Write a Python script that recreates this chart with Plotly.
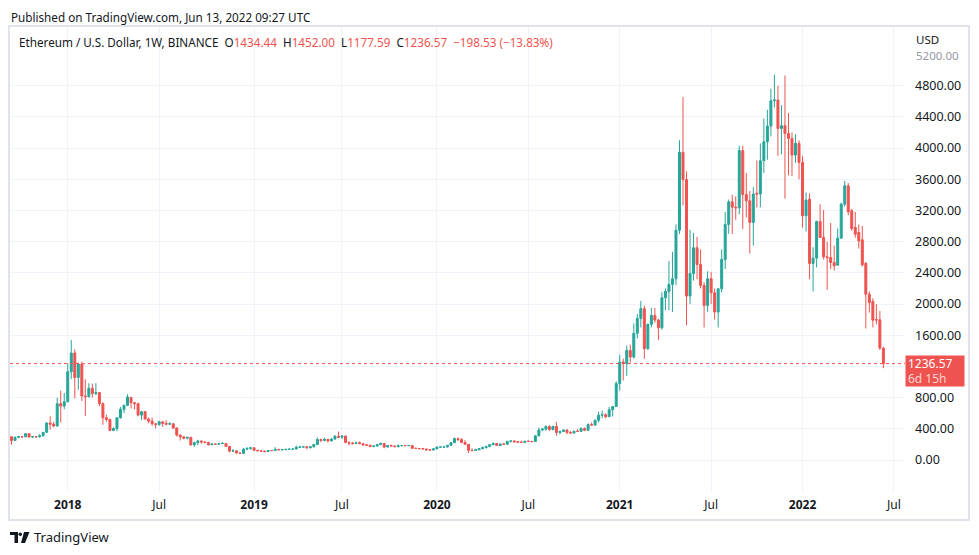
import pandas as pd
import plotly.graph_objects as go

firstWeek = "2017-09-11"

# weekly candles ETH/USD (Binance), one line per year
weekOpen = [
    299, 250, 292, 300, 297, 338, 294, 300, 298, 312, 355, 475, 460, 436, 722, 692,
    748, 1131, 1372, 1058, 1230, 822, 813, 920, 852, 865, 723, 542, 520, 379, 404, 542, 650, 701, 800, 735,
    723, 576, 620, 525, 499, 465, 455, 490, 470, 460, 465, 410, 320, 297, 280, 290, 195, 222, 245, 232,
    225, 195, 205, 203, 210, 212, 175, 113, 118, 90, 85, 140, 150,
    157, 125, 118, 115, 108, 122, 121, 137, 131, 133, 137, 139, 141, 163, 166, 170, 156, 170, 200, 262,
    250, 266, 245, 268, 305, 292, 307, 226, 218, 210, 222, 210, 195, 190, 172, 180, 197, 211, 166, 185,
    181, 172, 183, 186, 184, 185, 150, 148, 145, 142, 132, 128,
    143, 166, 167, 168, 189, 223, 275, 262, 225, 201, 124, 122, 131, 145, 158, 172, 197, 212, 187, 206,
    202, 240, 245, 233, 229, 225, 241, 238, 236, 310, 385, 396, 430, 390, 430, 352, 365, 385, 355, 346,
    370, 368, 405, 382, 455, 448, 510, 575, 580, 556, 645, 686,
    980, 1257, 1235, 1406, 1321, 1624, 1816, 1940, 1428, 1739, 1854, 1795, 1696, 2081, 2162, 2251, 2324, 2947, 3946, 3596,
    2102, 2392, 2721, 2508, 2239, 1982, 2324, 2145, 1897, 2196, 2572, 3020, 3310, 3242, 3233, 3968, 3404, 3324, 3046, 3420,
    3410, 3837, 4081, 4282, 4607, 4616, 4252, 4287, 4188, 4124, 3910, 4060,
    3816, 3132, 3345, 2520, 2588, 3059, 2854, 2605, 2597, 2533, 2498, 2845, 3281, 3516, 3196, 2982, 2918, 2823, 2520, 2126,
    2032, 1800, 1797, 1434.44,
]
weekHigh = [
    300, 300, 310, 310, 345, 345, 305, 310, 330, 355, 480, 560, 490, 800, 890, 860,
    1240, 1540, 1420, 1250, 1260, 1036, 985, 980, 985, 870, 740, 580, 530, 420, 550, 680, 710, 843, 810, 740,
    735, 630, 630, 545, 545, 475, 505, 495, 510, 485, 470, 420, 330, 305, 300, 300, 235, 260, 245, 235,
    235, 215, 210, 215, 230, 215, 180, 140, 120, 95, 152, 160, 160,
    160, 130, 123, 118, 125, 125, 165, 142, 140, 138, 145, 145, 185, 184, 180, 178, 175, 205, 290, 275,
    285, 270, 280, 320, 365, 320, 315, 240, 230, 235, 240, 213, 200, 195, 185, 200, 225, 213, 185, 200,
    185, 199, 190, 195, 189, 186, 160, 152, 150, 145, 135, 145,
    170, 175, 172, 190, 225, 287, 290, 280, 255, 205, 150, 145, 150, 175, 185, 200, 227, 216, 210, 215,
    245, 250, 250, 242, 250, 245, 250, 245, 320, 415, 410, 445, 445, 440, 488, 380, 395, 392, 370, 375,
    395, 420, 418, 470, 480, 520, 620, 635, 600, 680, 690, 1010,
    1350, 1300, 1470, 1480, 1750, 1870, 2040, 1980, 1750, 1950, 1950, 1810, 2150, 2200, 2550, 2670, 3020, 4100, 4655, 3700,
    2950, 2913, 2860, 2700, 2280, 2420, 2410, 2200, 2200, 2700, 3180, 3340, 3400, 3380, 4030, 4030, 3680, 3450, 3500, 3840,
    4060, 4380, 4490, 4760, 4940, 4800, 4550, 4930, 4450, 4200, 4180, 4100,
    3900, 3430, 3420, 2730, 3070, 3280, 3206, 2800, 3040, 2750, 2970, 3300, 3580, 3550, 3220, 3180, 3020, 3000, 2540, 2160,
    2075, 1998, 1912, 1452.00,
]
weekLow = [
    197, 245, 280, 288, 295, 288, 280, 283, 285, 300, 355, 390, 420, 430, 480, 650,
    740, 1040, 790, 900, 757, 563, 800, 800, 830, 690, 452, 490, 370, 370, 370, 530, 600, 690, 660, 650,
    560, 510, 520, 470, 440, 405, 440, 425, 445, 450, 400, 300, 250, 265, 265, 180, 168, 190, 210, 215,
    185, 195, 196, 195, 206, 170, 100, 105, 85, 82, 83, 125, 130,
    118, 115, 110, 100, 104, 118, 120, 125, 125, 130, 133, 130, 139, 155, 161, 150, 152, 160, 190, 230,
    240, 225, 240, 265, 280, 270, 215, 190, 200, 205, 205, 180, 185, 164, 165, 170, 195, 150, 164, 175,
    162, 160, 175, 180, 180, 140, 142, 142, 140, 117, 124, 125,
    138, 160, 154, 160, 182, 220, 245, 215, 195, 90, 110, 120, 126, 140, 150, 165, 190, 180, 175, 197,
    195, 225, 225, 220, 220, 220, 235, 230, 235, 305, 370, 375, 375, 380, 310, 330, 360, 330, 335, 340,
    360, 360, 370, 370, 440, 440, 480, 535, 535, 555, 560, 680,
    890, 1020, 1080, 1250, 1300, 1560, 1700, 1300, 1410, 1700, 1760, 1540, 1670, 1920, 1920, 1900, 2240, 2900, 3263, 1726,
    2000, 2300, 2320, 2200, 1700, 1900, 2000, 1800, 1700, 2150, 2450, 2900, 2900, 3080, 3150, 2960, 3110, 2650, 2750, 3240,
    3240, 3680, 3850, 4150, 4520, 3900, 3920, 3350, 3650, 3640, 3810, 3600,
    2980, 2930, 2319, 2160, 2470, 2850, 2573, 2183, 2450, 2430, 2490, 2840, 3250, 3140, 2939, 2850, 2710, 2479, 1686, 1890,
    1699, 1741, 1410, 1177.59,
]
weekClose = [
    250, 292, 300, 297, 338, 294, 300, 298, 312, 355, 475, 460, 436, 722, 692, 748,
    1131, 1372, 1058, 1230, 822, 813, 920, 852, 865, 723, 542, 520, 379, 404, 542, 650, 701, 809, 735, 723,
    576, 620, 525, 499, 465, 455, 490, 470, 460, 465, 410, 320, 297, 280, 290, 195, 222, 245, 232, 225,
    195, 205, 203, 210, 212, 175, 113, 118, 90, 85, 140, 150, 157,
    125, 118, 115, 108, 122, 121, 137, 131, 133, 137, 139, 141, 163, 166, 170, 156, 170, 200, 262, 250,
    266, 245, 268, 305, 292, 307, 226, 218, 210, 222, 210, 195, 190, 172, 180, 197, 211, 166, 185, 181,
    172, 183, 186, 184, 185, 150, 148, 145, 142, 132, 128, 143,
    166, 167, 168, 189, 223, 275, 262, 225, 201, 124, 122, 131, 145, 158, 172, 197, 212, 187, 206, 202,
    240, 245, 233, 229, 225, 241, 238, 236, 310, 385, 396, 430, 390, 430, 352, 365, 385, 355, 346, 370,
    368, 405, 382, 455, 448, 510, 575, 580, 556, 645, 686, 980,
    1257, 1235, 1406, 1321, 1624, 1816, 1940, 1428, 1739, 1854, 1795, 1696, 2081, 2162, 2251, 2324, 2947, 3946, 3596, 2102,
    2392, 2721, 2508, 2239, 1982, 2324, 2145, 1897, 2196, 2572, 3020, 3310, 3242, 3233, 3968, 3404, 3324, 3046, 3410, 3410,
    3837, 4081, 4282, 4607, 4616, 4252, 4287, 4188, 4124, 3910, 4060, 3816,
    3132, 3333, 2520, 2588, 3059, 2854, 2605, 2597, 2533, 2490, 2845, 3281, 3516, 3183, 2969, 2896, 2810, 2503, 2126, 2019,
    1793, 1795, 1435.10, 1236.57,
]

tickDates = ["2018-01-01", "2018-07-02", "2019-01-07", "2019-07-01", "2020-01-06",
             "2020-07-06", "2021-01-04", "2021-07-05", "2022-01-03", "2022-07-04"]
tickText = ["<b>2018</b>", "Jul", "<b>2019</b>", "Jul", "<b>2020</b>",
            "Jul", "<b>2021</b>", "Jul", "<b>2022</b>", "Jul"]
priceTicks = [0, 400, 800, 1200, 1600, 2000, 2400, 2800, 3200, 3600, 4000, 4400, 4800]

upColor = "#26a69a"
downColor = "#ef5350"
textColor = "#131722"
gridColor = "#f0f3fa"
fontName = "Noto Sans"

weeks = pd.date_range(firstWeek, periods=len(weekClose), freq="W-MON")

# the page body adds an 8px margin, so the figure is 16px smaller than the window
pageOffset = 8


def px(x):
    # page pixel column -> paper x (plot spans columns 10..905)
    return (x - 10) / 895.0


def py(y):
    # page pixel row -> paper y (plot spans rows 26..492)
    return (492 - y) / 466.0


fig = go.Figure()
fig.add_trace(go.Candlestick(
    x=weeks, open=weekOpen, high=weekHigh, low=weekLow, close=weekClose,
    increasing=dict(line=dict(color=upColor, width=1), fillcolor=upColor),
    decreasing=dict(line=dict(color=downColor, width=1), fillcolor=downColor),
    whiskerwidth=0, showlegend=False, hoverinfo="skip"))

lastClose = weekClose[-1]
change = lastClose - weekClose[-2]
pct = change / weekClose[-2] * 100

red = lambda s: "<span style='color:%s'>%s</span>" % (downColor, s)
sp = "&nbsp;&nbsp;"
header = ("Ethereum / U.S. Dollar, 1W, BINANCE" + sp
          + "O" + red("%.2f" % weekOpen[-1]) + sp
          + "H" + red("%.2f" % weekHigh[-1]) + sp
          + "L" + red("%.2f" % weekLow[-1]) + sp
          + "C" + red("%.2f" % lastClose) + sp
          + red("\u2212%.2f (\u2212%.2f%%)" % (abs(change), abs(pct))))

annotations = [
    dict(x=px(10), y=py(16.5), text="Published on TradingView.com, Jun 13, 2022 09:27 UTC",
         font=dict(size=11.7, color=textColor), borderpad=0),
    dict(x=px(17), y=py(42), text=header, font=dict(size=11.7, color=textColor)),
    dict(x=px(914), y=py(39), text="USD", font=dict(size=11.5, color=textColor)),
    dict(x=px(914), y=py(56), text="5200.00", font=dict(size=11.5, color="#9598a1")),
    dict(x=px(32), y=py(537), text="TradingView", font=dict(size=13, color=textColor)),
]
for a in annotations:
    a.update(xref="paper", yref="paper", xanchor="left", yanchor="middle", showarrow=False)

# last price tag
annotations.append(dict(
    xref="paper", yref="y", x=px(905), y=lastClose, xanchor="left", yanchor="top",
    yshift=9, showarrow=False, align="left", bgcolor=downColor, borderpad=2,
    width=54, height=26,
    text="%.2f<br><span style='color:#fbd3d2'>6d 15h</span>" % lastClose,
    font=dict(size=12, color="white")))

shapes = [
    # current price dotted line
    dict(type="line", xref="paper", yref="y", x0=0, x1=1, y0=lastClose, y1=lastClose,
         line=dict(color=downColor, width=1, dash="dot")),
    # outer chart frame
    dict(type="rect", xref="paper", yref="paper", x0=px(9), x1=px(969), y0=py(520), y1=py(26),
         line=dict(color="#e0e3eb", width=2)),
    # TradingView logo
    dict(type="path", xref="paper", yref="paper", fillcolor=textColor, line=dict(width=0),
         path="M %f %f L %f %f L %f %f L %f %f L %f %f L %f %f Z" % (
             px(10), py(532), px(18), py(532), px(18), py(543), px(14.5), py(543),
             px(14.5), py(535), px(10), py(535))),
    dict(type="circle", xref="paper", yref="paper", fillcolor=textColor, line=dict(width=0),
         x0=px(18.5), x1=px(22), y0=py(536), y1=py(532.5)),
    dict(type="path", xref="paper", yref="paper", fillcolor=textColor, line=dict(width=0),
         path="M %f %f L %f %f L %f %f L %f %f Z" % (
             px(24), py(532), px(29.5), py(532), px(25), py(543), px(21), py(543))),
]

figW, figH = 979 - 2 * pageOffset, 555 - 2 * pageOffset
fig.update_layout(
    width=figW, height=figH,
    margin=dict(l=10 - pageOffset, r=figW - (905 - pageOffset),
                t=26 - pageOffset, b=figH - (492 - pageOffset)),
    paper_bgcolor="white", plot_bgcolor="white",
    font=dict(family=fontName, color=textColor, size=12),
    boxgap=0.2,
    showlegend=False, hovermode=False,
    annotations=annotations, shapes=shapes,
    xaxis=dict(type="date", range=["2017-09-08", "2022-07-26"],
               tickvals=tickDates, ticktext=tickText, showgrid=True, gridcolor=gridColor,
               zeroline=False, showline=False, ticks="", ticklabelstandoff=4,
               tickfont=dict(size=12, color=textColor),
               rangeslider=dict(visible=False), fixedrange=True),
    # 1200 label is hidden behind the last price tag, as in the original
    yaxis=dict(side="right", range=[-410, 5565], tickvals=priceTicks,
               ticktext=["" if v == 1200 else "%.2f" % v for v in priceTicks],
               showgrid=True, gridcolor=gridColor,
               zeroline=False, showline=False, ticks="", ticklabelstandoff=9,
               tickfont=dict(size=12.5, color=textColor), fixedrange=True),
)

fig.write_html("out.html")
